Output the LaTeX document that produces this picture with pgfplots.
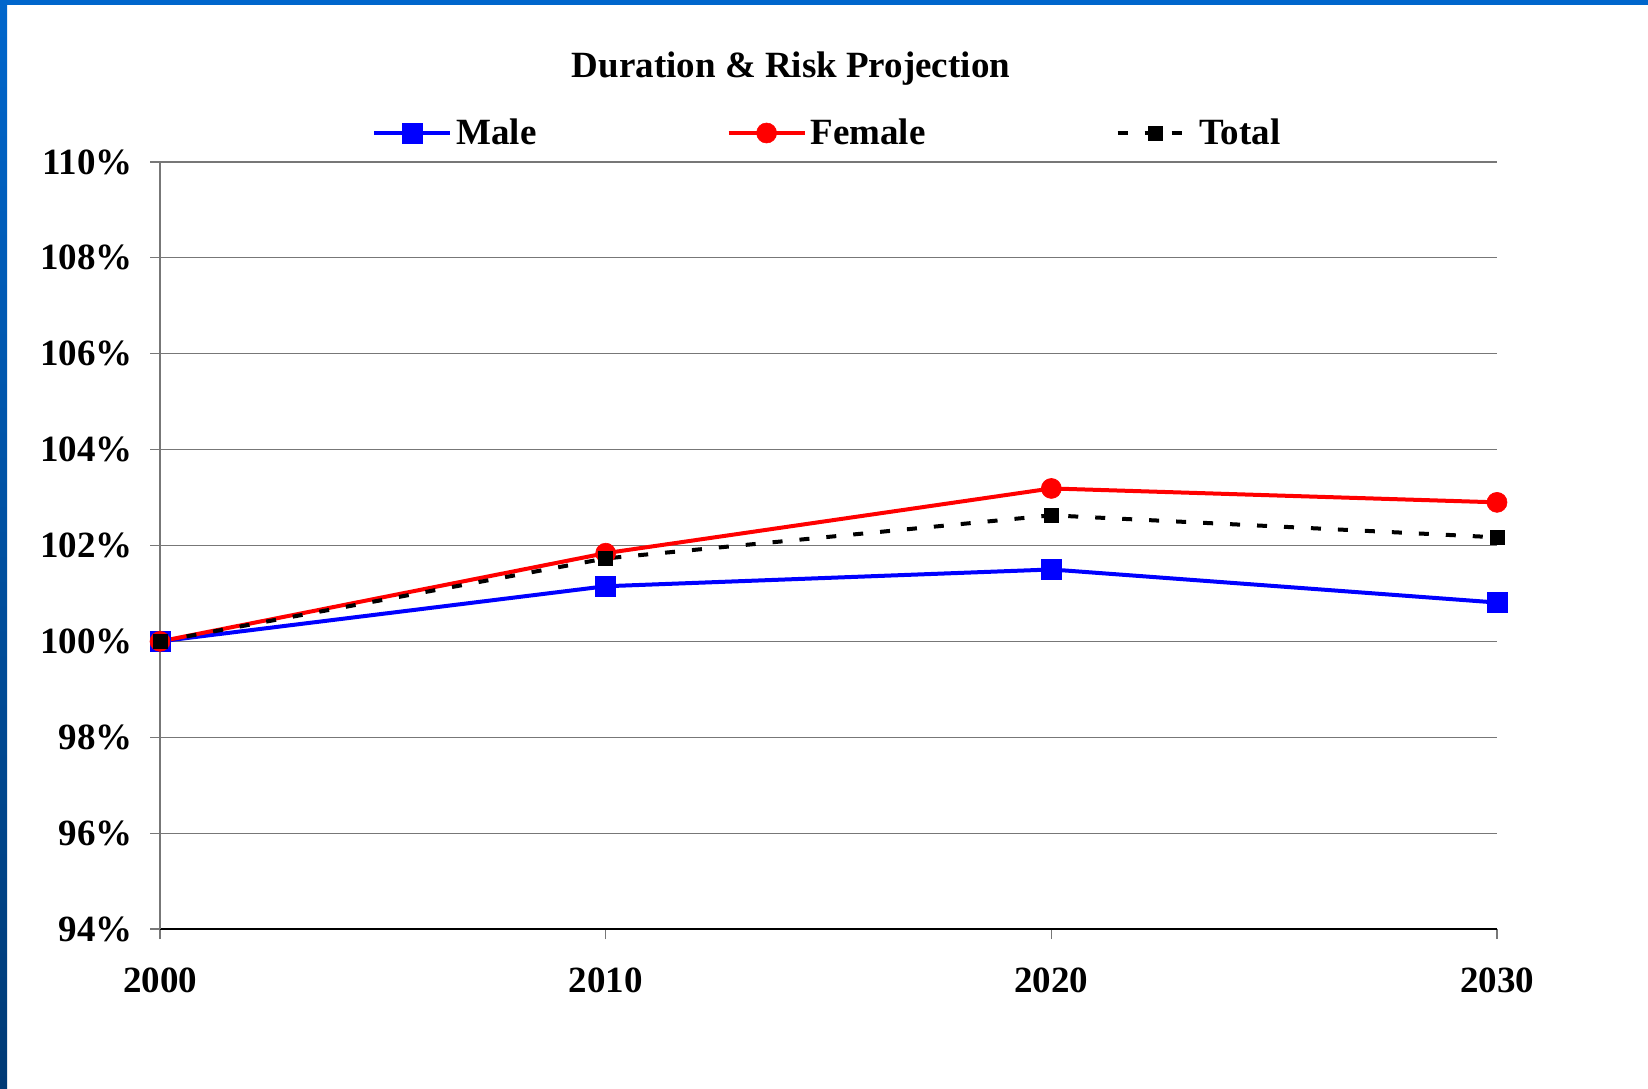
\documentclass[border=0pt]{standalone}
\usepackage{pgfplots}
\pgfplotsset{compat=1.18}
\usepackage{fontspec}
\setmainfont{Liberation Serif}
\definecolor{frameblue}{HTML}{0066CC}
\definecolor{framedark}{HTML}{003A75}
\definecolor{gridgray}{HTML}{777777}
\begin{document}
\begin{tikzpicture}[x=1pt,y=1pt]
\useasboundingbox (0,0) rectangle (824,544);
\fill[white] (0,0) rectangle (824,544);
\fill[frameblue] (0,541.5) rectangle (824,544);
\shade[top color=frameblue,bottom color=framedark] (0,0) rectangle (3.5,544);
\node[font=\bfseries\fontsize{18.5}{20}\selectfont] at (395.5,509.5) {Duration \& Risk Projection};
\begin{axis}[
  at={(80pt,79.5pt)}, anchor=south west,
  scale only axis, width=668.5pt, height=383.5pt,
  xmin=2000, xmax=2030, ymin=94, ymax=110,
  xtick={2000,2010,2020,2030},
  ytick={94,96,...,110},
  yticklabel={\pgfmathprintnumber{\tick}\%},
  /pgf/number format/assume math mode=true,
  /pgf/number format/1000 sep={},
  ticklabel style={font=\bfseries\fontsize{18.5}{20}\selectfont},
  xticklabel style={yshift=-11pt},
  yticklabel style={xshift=-5pt},
  axis x line*=bottom, axis y line*=left,
  x axis line style={black, line width=0.6pt, -},
  y axis line style={gridgray, line width=0.6pt, -},
  tick align=outside, major tick length=5pt,
  tick style={gridgray, line width=0.6pt},
  ymajorgrids, major grid style={gridgray, line width=0.6pt},
  clip=false,
  legend columns=-1,
  legend style={at={(0.5,1)}, anchor=center, yshift=14.5pt,
    draw=none, fill=none,
    font=\bfseries\fontsize{18.5}{20}\selectfont,
    /tikz/every even column/.append style={column sep=93pt}},
  legend image code/.code={\draw[mark repeat=2,mark phase=2,#1] plot coordinates {(0pt,0pt)(19pt,0pt)(38pt,0pt)};},
]
\addplot[blue, line width=2pt, mark=square*, mark size=5pt, mark options={line width=0.3pt}]
  coordinates {(2000,100) (2010,101.15) (2020,101.5) (2030,100.81)};
\addplot[red, line width=2pt, mark=*, mark size=5pt, mark options={line width=0.3pt}]
  coordinates {(2000,100) (2010,101.84) (2020,103.19) (2030,102.9)};
\addplot[black, line width=2pt, dash pattern=on 5pt off 8.5pt, mark=square*, mark size=3.5pt, mark options={solid, line width=0.3pt}]
  coordinates {(2000,100) (2010,101.73) (2020,102.63) (2030,102.17)};
\legend{Male,Female,Total}
\end{axis}
\end{tikzpicture}
\end{document}
